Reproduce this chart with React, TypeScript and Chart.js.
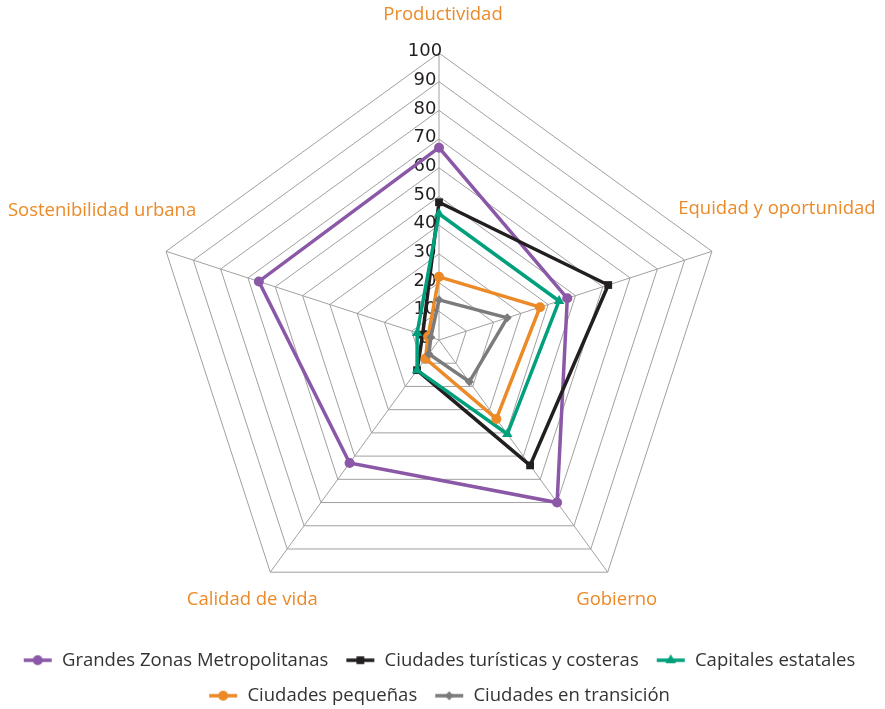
import React, { useEffect, useRef } from 'react';
import { Chart, registerables } from 'chart.js';
Chart.register(...registerables);

const categories = ['Productividad', 'Equidad y oportunidad', 'Gobierno', 'Calidad de vida', 'Sostenibilidad urbana'];
const seriesNames = [
  'Grandes Zonas Metropolitanas',
  'Ciudades turísticas y costeras',
  'Capitales estatales',
  'Ciudades pequeñas',
  'Ciudades en transición',
];
const grandesZonas = [67, 47, 70, 53, 66];
const turisticas = [48, 62, 54, 13, 6];
const capitales = [44, 44, 40.5, 13, 8];
const pequenas = [22, 37, 34, 8, 4];
const transicion = [14, 25, 18, 6, 3];
const scaleMin = 0;
const scaleMax = 100;
const scaleStep = 10;

const seriesValues = [grandesZonas, turisticas, capitales, pequenas, transicion];
const colors = ['#8A58A6', '#231F20', '#00A07C', '#EC8A27', '#7B7B7B'];
const markers = ['circle', 'rect', 'triangle', 'circle', 'rectRot'];
const markerRadius = [5, 5.5, 6, 5, 4.5];
const labelColor = '#EC8A27';
const labelFont = '18.5px "Open Sans"';
// label anchor offsets from each outer vertex (layout only)
const labelOffsets = [
  [4, -38],
  [65, -43],
  [9, 28],
  [-18, 28],
  [-64, -41],
];

function makeIcon(color: string, style: string, r: number): HTMLCanvasElement {
  const c = document.createElement('canvas');
  c.width = 30;
  c.height = 16;
  const ctx = c.getContext('2d')!;
  ctx.strokeStyle = color;
  ctx.fillStyle = color;
  ctx.lineWidth = 3.5;
  ctx.beginPath();
  ctx.moveTo(1, 8);
  ctx.lineTo(29, 8);
  ctx.stroke();
  ctx.beginPath();
  const x = 15, y = 8;
  if (style === 'circle') {
    ctx.arc(x, y, r, 0, Math.PI * 2);
  } else if (style === 'rect') {
    const s = r * Math.SQRT1_2;
    ctx.rect(x - s, y - s, 2 * s, 2 * s);
  } else if (style === 'triangle') {
    ctx.moveTo(x, y - r);
    ctx.lineTo(x + r * 0.866, y + r * 0.5);
    ctx.lineTo(x - r * 0.866, y + r * 0.5);
    ctx.closePath();
  } else {
    ctx.moveTo(x, y - r);
    ctx.lineTo(x + r, y);
    ctx.lineTo(x, y + r);
    ctx.lineTo(x - r, y);
    ctx.closePath();
  }
  ctx.fill();
  return c;
}

const tickLabelPlugin = {
  id: 'tickLabels',
  beforeDatasetsDraw(chart: any) {
    const s = chart.scales.r;
    const ctx = chart.ctx;
    ctx.save();
    ctx.font = '18px "DejaVu Sans"';
    ctx.fillStyle = '#231F20';
    ctx.textAlign = 'center';
    ctx.textBaseline = 'middle';
    s.ticks.forEach((t: any) => {
      const d = s.getDistanceFromCenterForValue(t.value);
      ctx.fillText(String(t.value), s.xCenter - 14, s.yCenter - d - 1.5);
    });
    ctx.restore();
  },
};

const pointLabelPlugin = {
  id: 'pointLabelsCustom',
  afterDatasetsDraw(chart: any) {
    const s = chart.scales.r;
    const ctx = chart.ctx;
    ctx.save();
    ctx.font = labelFont;
    ctx.fillStyle = labelColor;
    ctx.textAlign = 'center';
    ctx.textBaseline = 'middle';
    categories.forEach((c, i) => {
      const p = s.getPointPosition(i, s.drawingArea);
      ctx.fillText(c, p.x + labelOffsets[i][0], p.y + labelOffsets[i][1]);
    });
    ctx.restore();
  },
};

export default function App() {
  const ref = useRef<HTMLCanvasElement>(null);
  useEffect(() => {
    if (!ref.current) return;
    const icons = colors.map((c, i) => makeIcon(c, markers[i], markerRadius[i]));
    const chart = new Chart(ref.current, {
      type: 'radar',
      data: {
        labels: categories,
        datasets: seriesNames.map((name, i) => ({
          label: name,
          data: seriesValues[i],
          borderColor: colors[i],
          backgroundColor: colors[i],
          pointBackgroundColor: colors[i],
          pointBorderColor: colors[i],
          pointBorderWidth: 0,
          pointStyle: markers[i] as any,
          pointRadius: markerRadius[i],
          pointHoverRadius: markerRadius[i],
          borderWidth: 3.5,
          fill: false,
          tension: 0,
          order: seriesNames.length - i,
        })),
      },
      options: {
        responsive: false,
        animation: false,
        layout: { padding: { top: 53, left: 0, right: 7, bottom: -6 } },
        scales: {
          r: {
            min: scaleMin,
            max: scaleMax,
            ticks: { display: false, stepSize: scaleStep },
            grid: { color: '#A0A0A0', lineWidth: 1 },
            angleLines: { color: '#A0A0A0', lineWidth: 1 },
            pointLabels: { display: false },
          },
        },
        plugins: {
          tooltip: { enabled: false },
          legend: {
            position: 'bottom',
            title: { display: true, text: ' ', font: { size: 5, lineHeight: 1.2 }, padding: 0 },
            labels: {
              usePointStyle: true,
              pointStyleWidth: 30,
              padding: 17,
              color: '#333333',
              font: { family: 'Open Sans', size: 18.5 },
              generateLabels: (ch: any) =>
                ch.data.datasets.map((ds: any, i: number) => ({
                  text: ds.label,
                  pointStyle: icons[i],
                  datasetIndex: i,
                  fillStyle: 'transparent',
                  strokeStyle: 'transparent',
                  lineWidth: 0,
                  fontColor: '#333333',
                  hidden: false,
                })),
            },
          },
        },
      },
      plugins: [tickLabelPlugin, pointLabelPlugin],
    });
    return () => chart.destroy();
  }, []);
  return (
    <div style={{ position: 'absolute', left: 0, top: 0, width: 885, height: 709, background: '#fff' }}>
      <canvas ref={ref} width={885} height={709} style={{ display: 'block' }} />
    </div>
  );
}
